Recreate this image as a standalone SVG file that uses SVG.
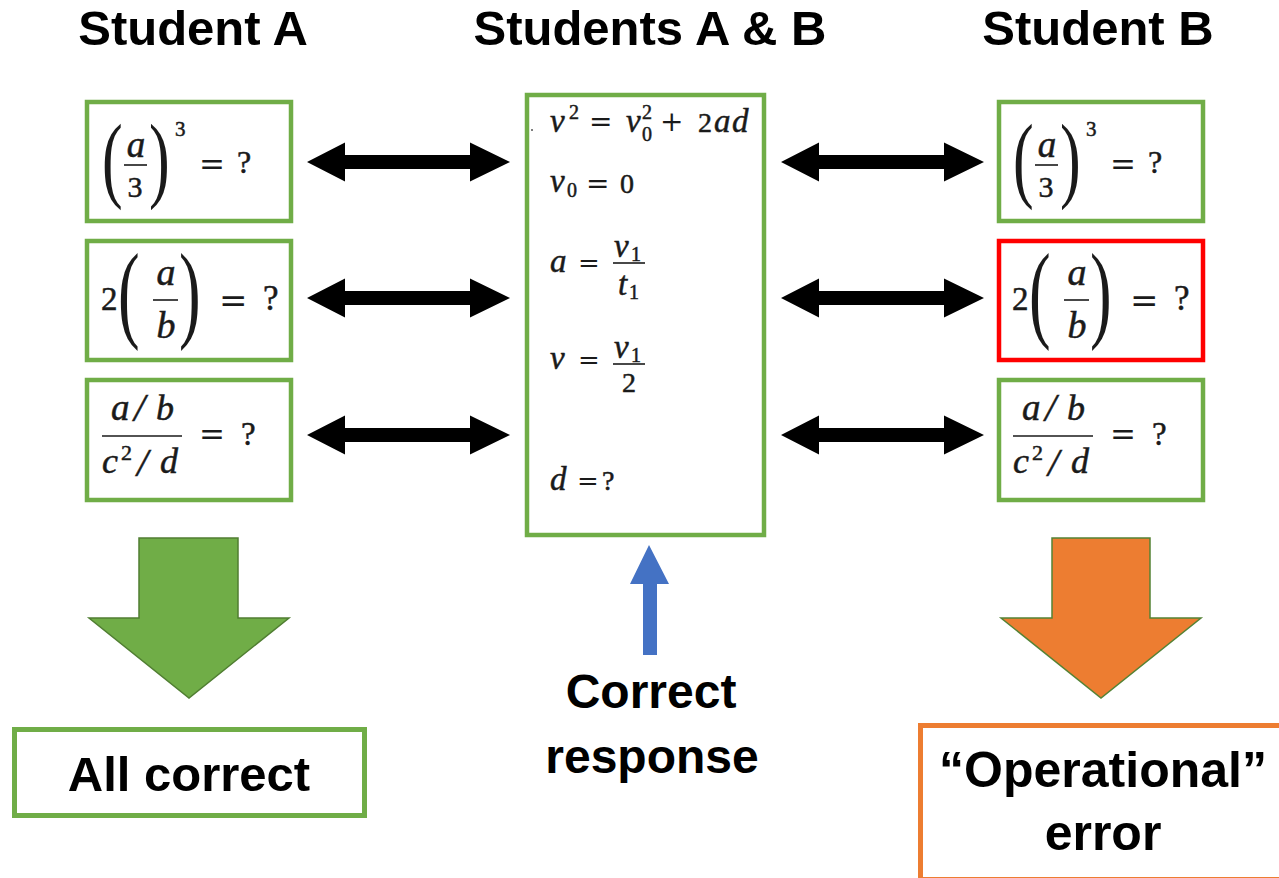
<svg xmlns="http://www.w3.org/2000/svg" width="1279" height="878" viewBox="0 0 1279 878">
<style>
.lbl{font-family:"Liberation Sans",Arial,sans-serif;font-weight:bold;fill:#000;text-anchor:middle}
.t{font-size:49px}
.m{font-family:'Liberation Serif','DejaVu Serif',serif;fill:#1a1a1a;stroke:#1a1a1a;stroke-width:0.5}
.p{font-family:'Liberation Serif','DejaVu Serif',serif;fill:#1a1a1a}
.i{font-style:italic}
.op{font-family:'DejaVu Serif',serif;fill:#1a1a1a}
.bar{stroke:#1a1a1a;stroke-width:1.6}
.gbox{fill:#fff;stroke:#70AD47;stroke-width:4.5}
.rbox{fill:#fff;stroke:#FF0000;stroke-width:4.5}
.dbl{fill:#000}
</style>
<defs>
<path id="dbl" d="M0,0 L38,-19.5 L38,-7 L163,-7 L163,-19.5 L203,0 L163,19.5 L163,7 L38,7 L38,19.5 Z"/>
<g id="eq1">
<text class="p" font-size="46" transform="translate(102,190) scale(1.35,2.09)">(</text>
<text class="m i" font-size="37" x="136" y="157" text-anchor="middle">a</text>
<line class="bar" x1="124" y1="165" x2="147" y2="165"/>
<text class="m" font-size="30" x="135" y="197" text-anchor="middle">3</text>
<text class="p" font-size="46" transform="translate(149,190) scale(1.35,2.09)">)</text>
<text class="m" font-size="21" x="175" y="136">3</text>
<text class="op" font-size="31" x="199" y="175">=</text>
<text class="m" font-size="32" x="237" y="173">?</text>
</g>
<g id="eq2">
<text class="m" font-size="33" x="101" y="310">2</text>
<text class="p" font-size="50" transform="translate(118,328) scale(1.3,2.16)">(</text>
<text class="m i" font-size="38" x="166" y="285" text-anchor="middle">a</text>
<line class="bar" x1="153" y1="300" x2="178" y2="300"/>
<text class="m i" font-size="38" x="166" y="338" text-anchor="middle">b</text>
<text class="p" font-size="50" transform="translate(179,328) scale(1.3,2.16)">)</text>
<text class="op" font-size="34" x="219" y="312">=</text>
<text class="m" font-size="35" x="263" y="310">?</text>
</g>
<g id="eq3">
<text class="m i" font-size="37" x="111" y="420">a</text>
<text class="m i" font-size="40" x="134" y="421">/</text>
<text class="m i" font-size="36" x="156" y="420">b</text>
<line class="bar" x1="102" y1="436" x2="182" y2="436"/>
<text class="m i" font-size="36" x="102" y="473">c</text>
<text class="m" font-size="22" x="121" y="460">2</text>
<text class="m i" font-size="40" x="137" y="476">/</text>
<text class="m i" font-size="36" x="160" y="473">d</text>
<text class="op" font-size="31" x="199" y="445">=</text>
<text class="m" font-size="33" x="241" y="445">?</text>
</g>
</defs>

<g id="titles">
<text class="lbl t" x="193" y="45">Student A</text>
<text class="lbl t" x="650" y="45">Students A &amp; B</text>
<text class="lbl t" x="1098" y="45">Student B</text>
</g>

<g id="studentA">
<g id="a1"><rect class="gbox" x="87" y="102" width="204" height="119"/><use href="#eq1"/></g>
<g id="a2"><rect class="gbox" x="87" y="241" width="204" height="119"/><use href="#eq2"/></g>
<g id="a3"><rect class="gbox" x="87" y="380" width="204" height="120"/><use href="#eq3"/></g>
</g>

<g id="studentB">
<g id="b1"><rect class="gbox" x="999" y="102" width="204" height="119"/><use href="#eq1" transform="translate(911,0)"/></g>
<g id="b2"><rect class="rbox" x="999" y="241" width="204" height="119"/><use href="#eq2" transform="translate(911,0)"/></g>
<g id="b3"><rect class="gbox" x="999" y="380" width="204" height="120"/><use href="#eq3" transform="translate(911,0)"/></g>
</g>

<g id="shared">
<rect class="gbox" x="527" y="95" width="237" height="440"/>
<circle cx="532" cy="130" r="1" fill="#555"/>
<text class="m i" font-size="33" x="550" y="132">v</text>
<text class="m" font-size="20" x="569" y="119">2</text>
<text class="op" font-size="28" x="589" y="131">=</text>
<text class="m i" font-size="33" x="626" y="132">v</text>
<text class="m" font-size="20" x="642" y="119">2</text>
<text class="m" font-size="20" x="642" y="141">0</text>
<text class="op" font-size="28" x="660" y="131">+</text>
<text class="m" font-size="28" x="698" y="132">2</text>
<text class="m i" font-size="33" x="714" y="132">a</text>
<text class="m i" font-size="33" x="732" y="132">d</text>

<text class="m i" font-size="33" x="550" y="192">v</text>
<text class="m" font-size="20" x="567" y="197">0</text>
<text class="op" font-size="28" x="586" y="193">=</text>
<text class="m" font-size="28" x="620" y="193">0</text>

<text class="m i" font-size="33" x="550" y="272">a</text>
<text class="op" font-size="26" x="578" y="272">=</text>
<text class="m i" font-size="33" x="614" y="257">v</text>
<text class="m" font-size="20" x="631" y="261">1</text>
<line class="bar" x1="613" y1="263" x2="645" y2="263"/>
<text class="m i" font-size="33" x="618" y="295">t</text>
<text class="m" font-size="20" x="629" y="299">1</text>

<text class="m i" font-size="33" x="550" y="369">v</text>
<text class="op" font-size="26" x="578" y="369">=</text>
<text class="m i" font-size="33" x="614" y="358">v</text>
<text class="m" font-size="20" x="631" y="362">1</text>
<line class="bar" x1="613" y1="364" x2="645" y2="364"/>
<text class="m" font-size="28" x="622" y="392">2</text>

<text class="m i" font-size="33" x="550" y="490">d</text>
<text class="op" font-size="26" x="577" y="490">=</text>
<text class="m" font-size="28" x="602" y="490">?</text>
</g>

<g id="outcomeA">
<rect fill="#fff" stroke="#70AD47" stroke-width="5" x="14.5" y="729.5" width="350" height="86"/>
<text class="lbl" font-size="49" x="189" y="791">All correct</text>
</g>

<g id="correctLabel">
<text class="lbl" font-size="48" x="651" y="708">Correct</text>
<text class="lbl" font-size="48" x="652" y="773">response</text>
</g>

<g id="outcomeB">
<rect fill="#fff" stroke="#ED7D31" stroke-width="5" x="920.5" y="725.5" width="420" height="154"/>
<text class="lbl" font-size="50" x="1103" y="787">“Operational”</text>
<text class="lbl" font-size="50" x="1103" y="850">error</text>
</g>

<g id="connectors">
<use href="#dbl" class="dbl" transform="translate(307,162)"/>
<use href="#dbl" class="dbl" transform="translate(307,298)"/>
<use href="#dbl" class="dbl" transform="translate(307,435)"/>
<use href="#dbl" class="dbl" transform="translate(781,162)"/>
<use href="#dbl" class="dbl" transform="translate(781,298)"/>
<use href="#dbl" class="dbl" transform="translate(781,435)"/>
<polygon points="139,538 238,538 238,618 289,618 189,698 89,618 139,618" fill="#70AD47" stroke="#507E32" stroke-width="1.5"/>
<polygon points="1052,538 1150,538 1150,618 1201,618 1101,698 1001,618 1052,618" fill="#ED7D31" stroke="#548235" stroke-width="1.5"/>
<polygon points="649,545 669,584 657,584 657,655 643,655 643,584 630,584" fill="#4472C4"/>
</g>
</svg>
